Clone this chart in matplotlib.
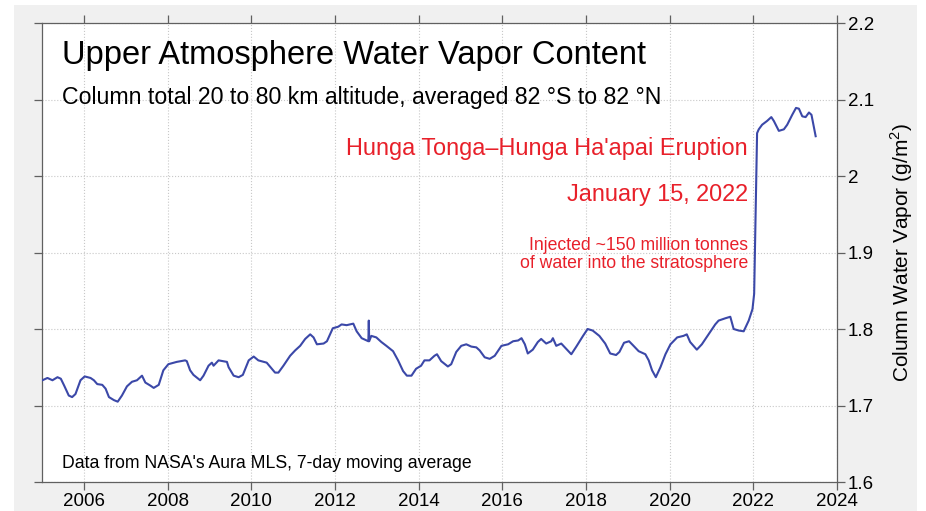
import matplotlib
matplotlib.use('Agg')
import matplotlib.pyplot as plt
from matplotlib.patches import Rectangle
from matplotlib.ticker import MultipleLocator, FuncFormatter

plt.rcParams['font.family'] = ['Liberation Sans', 'DejaVu Sans']
plt.rcParams['mathtext.fontset'] = 'custom'
plt.rcParams['mathtext.rm'] = 'Liberation Sans'

LINE = "#3b48a8"
RED = "#e8202a"
SPINE = "#606060"
GRID = "#c8c8c8"

# weekly-ish samples (decimal year, g/m^2)
years = [
    2005.01, 2005.13, 2005.25, 2005.37, 2005.45, 2005.53, 2005.64, 2005.72, 2005.80, 2005.92,
    2006.02, 2006.16, 2006.24, 2006.32, 2006.44, 2006.52, 2006.60, 2006.72, 2006.81, 2006.91,
    2007.03, 2007.15, 2007.27, 2007.39, 2007.47, 2007.59, 2007.67, 2007.79, 2007.90,
    2008.02, 2008.22, 2008.42, 2008.46, 2008.54, 2008.62, 2008.78, 2008.86, 2008.98,
    2009.06, 2009.10, 2009.22, 2009.42, 2009.46, 2009.58, 2009.70, 2009.80, 2009.94,
    2010.06, 2010.17, 2010.37, 2010.57, 2010.65, 2010.77, 2010.93,
    2011.05, 2011.17, 2011.29, 2011.41, 2011.49, 2011.57, 2011.73, 2011.81, 2011.95,
    2012.08, 2012.16, 2012.28, 2012.44, 2012.52, 2012.64, 2012.76, 2012.80, 2012.81, 2012.82,
    2012.87, 2012.99, 2013.11, 2013.23, 2013.39, 2013.51, 2013.63, 2013.72, 2013.83, 2013.94,
    2014.06, 2014.14, 2014.26, 2014.38, 2014.44, 2014.54, 2014.70, 2014.78, 2014.90,
    2015.02, 2015.14, 2015.26, 2015.38, 2015.46, 2015.58, 2015.70, 2015.82, 2015.98,
    2016.14, 2016.26, 2016.38, 2016.46, 2016.54, 2016.61, 2016.73, 2016.85, 2016.93,
    2017.05, 2017.17, 2017.21, 2017.29, 2017.41, 2017.53, 2017.65, 2017.77, 2017.93,
    2018.04, 2018.16, 2018.32, 2018.46, 2018.58, 2018.72, 2018.80, 2018.91,
    2019.03, 2019.12, 2019.26, 2019.42, 2019.50, 2019.58, 2019.67, 2019.78, 2019.90,
    2020.02, 2020.18, 2020.33, 2020.41, 2020.49, 2020.65, 2020.77, 2020.93,
    2021.09, 2021.17, 2021.33, 2021.45, 2021.53, 2021.65, 2021.77, 2021.89, 2021.98,
    2022.02, 2022.05, 2022.09, 2022.13, 2022.21, 2022.33, 2022.43, 2022.49, 2022.61,
    2022.73, 2022.81, 2022.93, 2023.02, 2023.09, 2023.17, 2023.25, 2023.33, 2023.39, 2023.49,
]
vapor = [
    1.733, 1.736, 1.733, 1.737, 1.735, 1.726, 1.713, 1.711, 1.715, 1.733,
    1.738, 1.736, 1.733, 1.728, 1.727, 1.722, 1.711, 1.707, 1.705, 1.713,
    1.725, 1.731, 1.733, 1.739, 1.730, 1.726, 1.723, 1.727, 1.746,
    1.754, 1.757, 1.759, 1.758, 1.746, 1.740, 1.733, 1.739, 1.752,
    1.756, 1.752, 1.759, 1.757, 1.750, 1.739, 1.737, 1.740, 1.759,
    1.764, 1.759, 1.756, 1.743, 1.743, 1.752, 1.765,
    1.772, 1.778, 1.787, 1.793, 1.789, 1.780, 1.781, 1.784, 1.801,
    1.803, 1.806, 1.805, 1.807, 1.797, 1.788, 1.785, 1.784, 1.811, 1.784,
    1.791, 1.789, 1.783, 1.778, 1.771, 1.759, 1.745, 1.739, 1.739, 1.748,
    1.752, 1.759, 1.759, 1.765, 1.767, 1.758, 1.751, 1.754, 1.770,
    1.778, 1.780, 1.777, 1.776, 1.772, 1.763, 1.761, 1.765, 1.778,
    1.780, 1.784, 1.785, 1.788, 1.780, 1.768, 1.773, 1.783, 1.787,
    1.781, 1.784, 1.788, 1.778, 1.781, 1.774, 1.767, 1.777, 1.791,
    1.800, 1.798, 1.791, 1.781, 1.768, 1.766, 1.770, 1.782,
    1.784, 1.779, 1.771, 1.767, 1.759, 1.746, 1.737, 1.750, 1.767,
    1.780, 1.789, 1.791, 1.793, 1.783, 1.773, 1.780, 1.793,
    1.806, 1.811, 1.814, 1.816, 1.800, 1.798, 1.797, 1.811, 1.826,
    1.846, 1.937, 2.056, 2.061, 2.067, 2.072, 2.077, 2.072, 2.059,
    2.061, 2.067, 2.080, 2.089, 2.088, 2.078, 2.077, 2.083, 2.080, 2.052,
]

fig = plt.figure(figsize=(9.26, 5.11), dpi=100)
fig.patch.set_facecolor('white')
# light gray panel behind the axes
fig.patches.append(Rectangle((14 / 926, 0), 903 / 926, 506 / 511, transform=fig.transFigure,
                             facecolor='#f0f0f0', edgecolor='none', zorder=-10))

ax = fig.add_axes([42 / 926, 1 - 482 / 511, 795 / 926, 459 / 511])
ax.set_facecolor('white')
ax.plot(years, vapor, color=LINE, lw=1.5, zorder=3)

ax.set_xlim(2005, 2024)
ax.set_ylim(1.6, 2.2)
ax.xaxis.set_major_locator(MultipleLocator(2))
ax.yaxis.set_major_locator(MultipleLocator(0.1))
ax.yaxis.set_major_formatter(FuncFormatter(lambda v, p: f"{v:g}"))
ax.grid(True, color=GRID, linestyle=':', linewidth=0.8, zorder=1)

ax.tick_params(axis='both', which='both', direction='out', length=6, width=0.9,
               color=SPINE, labelsize=13.5, top=True, bottom=True, left=True, right=True,
               labelleft=False, labelright=True, labeltop=False, labelbottom=True)
ax.tick_params(axis='y', pad=2)
ax.tick_params(axis='x', pad=2)
for s in ax.spines.values():
    s.set_color(SPINE)
    s.set_linewidth(0.9)

ax.yaxis.set_label_position('right')
ax.set_ylabel('Column Water Vapor (g/m$^2$)', fontsize=15, labelpad=10)

def fx(px):
    return (px - 42) / 795

def fy(py):
    return (482 - py) / 459

T = ax.transAxes
ax.text(fx(62), fy(64), 'Upper Atmosphere Water Vapor Content', fontsize=23.5,
        transform=T, va='baseline', ha='left')
ax.text(fx(62), fy(104), 'Column total 20 to 80 km altitude, averaged 82 \u00b0S to 82 \u00b0N',
        fontsize=16.7, transform=T, va='baseline', ha='left')
ax.text(fx(748), fy(155), 'Hunga Tonga\u2013Hunga Ha\'apai Eruption', fontsize=16.9,
        color=RED, transform=T, va='baseline', ha='right')
ax.text(fx(748), fy(201), 'January 15, 2022', fontsize=16.9,
        color=RED, transform=T, va='baseline', ha='right')
ax.text(fx(748), fy(250), 'Injected ~150 million tonnes', fontsize=12.7,
        color=RED, transform=T, va='baseline', ha='right')
ax.text(fx(748), fy(268.5), 'of water into the stratosphere', fontsize=12.7,
        color=RED, transform=T, va='baseline', ha='right')
ax.text(fx(62), fy(468), "Data from NASA's Aura MLS, 7-day moving average", fontsize=12.7,
        transform=T, va='baseline', ha='left')

fig.savefig('out.png', dpi=100)
